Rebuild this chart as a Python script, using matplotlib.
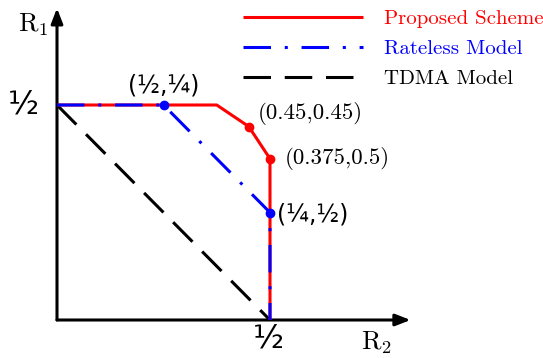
import numpy as np
import matplotlib as mpl
import matplotlib.pyplot as plt

mpl.rcParams['mathtext.fontset'] = 'cm'
mpl.rcParams['axes.unicode_minus'] = False

# rate region corners (R2, R1)
prop_r2 = [0, 0.375, 0.45, 0.5, 0.5]
prop_r1 = [0.5, 0.5, 0.45, 0.375, 0]
rate_r2 = [0, 0.25, 0.5, 0.5]
rate_r1 = [0.5, 0.5, 0.25, 0]
tdma_r2 = [0, 0.5]
tdma_r1 = [0.5, 0]

prop_pts_r2 = [0.45, 0.5]
prop_pts_r1 = [0.45, 0.375]
prop_pts_txt = ['(0.45,0.45)', '(0.375,0.5)']
rate_pts_r2 = [0.25, 0.5]
rate_pts_r1 = [0.5, 0.25]
rate_pts_txt = ['(½,¼)', '(¼,½)']

fig = plt.figure(figsize=(5.43, 3.58), dpi=100)
ax = fig.add_axes([0, 0, 1, 1])
ax.set_xlim(-57/426, 486/426)
ax.set_ylim(-38/430, 320/430)
ax.axis('off')

# axes with arrows
ax.annotate('', xy=(0.83, 0), xytext=(0, 0),
            arrowprops=dict(arrowstyle='-|>,head_length=0.9,head_width=0.35', lw=2.2, color='k',
                            shrinkA=0, shrinkB=0), zorder=1)
ax.annotate('', xy=(0, 0.725), xytext=(0, 0),
            arrowprops=dict(arrowstyle='-|>,head_length=0.9,head_width=0.35', lw=2.2, color='k',
                            shrinkA=0, shrinkB=0), zorder=1)

l1, = ax.plot(prop_r2, prop_r1, color='red', lw=2.2, solid_capstyle='butt', zorder=3)
l2, = ax.plot(rate_r2, rate_r1, color='blue', lw=2.2, dashes=(9, 4.5, 1, 4.5), zorder=4)
l3, = ax.plot(tdma_r2, tdma_r1, color='black', lw=2.2, dashes=(9, 4.5), zorder=2)
ax.plot(prop_pts_r2, prop_pts_r1, 'o', color='red', ms=6, zorder=5)
ax.plot(rate_pts_r2, rate_pts_r1, 'o', color='blue', ms=6, zorder=5)

ax.text(prop_pts_r2[0] + 0.022, prop_pts_r1[0] + 0.03, prop_pts_txt[0], family='cmr10',
        fontsize=16.5, ha='left', va='center')
ax.text(prop_pts_r2[1] + 0.035, prop_pts_r1[1] + 0.0, prop_pts_txt[1], family='cmr10',
        fontsize=16.5, ha='left', va='center')
ax.text(rate_pts_r2[0], rate_pts_r1[0] + 0.045, rate_pts_txt[0], fontsize=17,
        ha='center', va='center')
ax.text(rate_pts_r2[1] + 0.016, rate_pts_r1[1] - 0.005, rate_pts_txt[1], fontsize=17,
        ha='left', va='center')

# tick labels and axis names
ax.text(0.497, -0.045, '½', fontsize=23, ha='center', va='center')
ax.text(-0.08, 0.5, '½', fontsize=23, ha='center', va='center')
ax.text(-0.056, 0.686, r'$\mathrm{R}_1$', fontsize=19, ha='center', va='center')
ax.text(0.749, -0.053, r'$\mathrm{R}_2$', fontsize=19, ha='center', va='center')

leg = ax.legend([l1, l2, l3], ['Proposed Scheme', 'Rateless Model', 'TDMA Model'],
                loc='upper right', bbox_to_anchor=(1.036, 1.025), frameon=False,
                handlelength=5.8, handletextpad=1.0, labelspacing=0.55,
                prop={'family': 'cmr10', 'size': 15})
for t, c in zip(leg.get_texts(), ['red', 'blue', 'black']):
    t.set_color(c)

fig.savefig('out.png', dpi=100)
